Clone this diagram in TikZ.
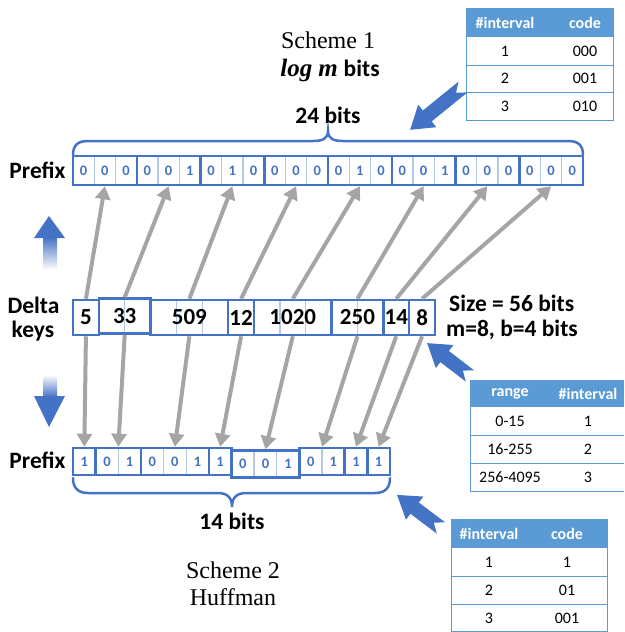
\documentclass[tikz,border=0pt]{standalone}
\usepackage{fontspec}
\setmainfont{Carlito}
\newfontfamily\schemefont{Liberation Serif}
\usetikzlibrary{arrows.meta}

\definecolor{boxblue}{HTML}{4472C4}
\definecolor{seplight}{HTML}{B4C7E7}
\definecolor{arrowgray}{HTML}{A5A5A5}
\definecolor{headblue}{HTML}{5B9BD5}

\tikzset{
  lbl/.style={font=\fontsize{23.5}{27}\selectfont\bfseries, inner sep=0},
  bitnum/.style={font=\fontsize{14.5}{16}\selectfont\bfseries, text=boxblue, inner sep=0},
  keynum/.style={font=\fontsize{23}{27}\selectfont\bfseries, inner sep=0},
  grp/.style={draw=boxblue, line width=2.5pt, inner sep=0, rectangle},
  sepline/.style={draw=seplight, line width=1.4pt},
  link/.style={draw=arrowgray, line width=4pt, -{Triangle[width=15pt,length=13pt]}},
  brace/.style={draw=boxblue, line width=2.5pt, line cap=round},
  scheme/.style={font=\schemefont\fontsize{24}{28}\selectfont, inner sep=0},
  thead/.style={font=\fontsize{16}{19}\selectfont\bfseries, text=white, inner sep=0},
  tcell/.style={font=\fontsize{16}{19}\selectfont, inner sep=0},
  tline/.style={draw=headblue, line width=1pt},
}

% notched block arrow: tail x, tail y, direction angle, length
\newcommand{\calloutarrow}[4]{%
  \begin{scope}[shift={(#1,#2)}, rotate=#3]
    \fill[boxblue] (0,-7) -- ({#4-22},-7) -- ({#4-22},-14.5) -- (#4,0)
      -- ({#4-22},14.5) -- ({#4-22},7) -- (0,7) -- (9,0) -- cycle;
  \end{scope}}

\begin{document}
\begin{tikzpicture}[x=1pt, y=-1pt]
\useasboundingbox (0,0) rectangle (624,632);

% ---------- scheme 1 prefix (24 bits) ----------
\foreach \c in {1,...,23}
  \draw[sepline] ({73+21.25*\c},156) -- ++(0,29);
\foreach \b [count=\i from 0] in {0,0,0,0,0,1,0,1,0,0,0,0,0,1,0,0,0,1,0,0,0,0,0,0}
  \node[bitnum] (tb\i) at ({73+21.25*(\i+0.5)},170.5) {\b};
\foreach \g in {1,...,8}
  \node[grp, minimum width=63.75pt, minimum height=29pt] (t\g) at ({73+63.75*(\g-0.5)},170.5) {};

% ---------- delta keys (56 bits) ----------
\foreach \c in {4,5,8,9,11}
  \draw[sepline] ({73+25.86*\c},300) -- ++(0,35);
\draw[sepline] ({73+25.86*2},298.5) -- ++(0,35);
\foreach \s/\n/\i/\dy/\v in {0/1/1/0/5, 1/2/2/-1.5/33, 3/3/3/0/509, 6/1/4/0/12,
                             7/3/5/0/1020, 10/2/6/0/250, 12/1/7/0/14, 13/1/8/0/8}
  \node[grp, keynum, minimum width={\n*25.86pt}, minimum height=35pt]
    (d\i) at ({73+25.86*(\s+\n/2)},{317.5+\dy}) {\v};

% ---------- scheme 2 prefix (14 bits) ----------
\foreach \c in {2,4,5,11}
  \draw[sepline] ({73+22.64*\c},448) -- ++(0,27);
\foreach \c in {8,9}
  \draw[sepline] ({73+22.64*\c},450.5) -- ++(0,27);
\foreach \b [count=\i from 0] in {1,0,1,0,0,1,1,0,0,1,0,1,1,1} {
  \pgfmathsetmacro\dy{ifthenelse(and(\i>6,\i<10),2.5,0)}
  \node[bitnum] (bb\i) at ({73+22.64*(\i+0.5)},{461.5+\dy}) {\b};
}
\foreach \s/\n/\i/\dy in {0/1/1/0, 1/2/2/0, 3/3/3/0, 6/1/4/0,
                          7/3/5/2.5, 10/2/6/0, 12/1/7/0, 13/1/8/0}
  \node[grp, minimum width={\n*22.64pt}, minimum height=27pt]
    (b\i) at ({73+22.64*(\s+\n/2)},{461.5+\dy}) {};

% ---------- connectors ----------
\foreach \i in {1,...,8} {
  \draw[link] (d\i.north) -- (t\i.south);
  \draw[link] (d\i.south) -- (b\i.north);
}

% ---------- row labels ----------
\node[lbl, anchor=base] (pfxtop) at (37.5,178) {Prefix};
\node[lbl, anchor=base] (deltaA) at (33.5,313) {Delta};
\node[lbl, anchor=base] (deltaB) at (33,337) {keys};
\node[lbl, anchor=base] (pfxbot) at (37.5,468) {Prefix};
\node[lbl, anchor=base west] (sizelbl) at (449,311.5) {Size = 56 bits};
\node[lbl, anchor=base west] (mblbl) at (446,336) {m=8, b=4 bits};

% ---------- braces ----------
\draw[brace] (73,155) .. controls (73,145) and (78,141) .. (88,141) -- (313,141)
  .. controls (322,141) and (328,139) .. (328,131)
  .. controls (328,139) and (334,141) .. (343,141) -- (568,141)
  .. controls (578,141) and (583,145) .. (583,155);
\node[lbl, anchor=base] (bits24) at (328,123) {24 bits};

\draw[brace] (73,478) .. controls (73,488) and (78,493) .. (88,493) -- (217,493)
  .. controls (226,493) and (232,496) .. (232,507)
  .. controls (232,496) and (238,493) .. (247,493) -- (375,493)
  .. controls (385,493) and (390,488) .. (390,478);
\node[lbl, anchor=base] (bits14) at (232,529) {14 bits};

% ---------- scheme titles ----------
\node[scheme, anchor=base] (sch1) at (328,48) {Scheme 1};
\node[anchor=base, inner sep=0] (sch1b) at (330,76)
  {{\schemefont\bfseries\itshape\fontsize{25}{28}\selectfont log\hspace{6pt}m}\hspace{6pt}{\fontsize{23.5}{27}\selectfont\bfseries bits}};
\node[scheme, anchor=base] (sch2) at (233,578) {Scheme 2};
\node[scheme, anchor=base] (sch2b) at (233,605) {Huffman};

% ---------- direction arrows on the left ----------
\shade[top color=boxblue, bottom color=boxblue!6] (43,237) rectangle (57,268);
\fill[boxblue] (49,216) -- (65,238) -- (34,238) -- cycle;
\shade[top color=boxblue!6, bottom color=boxblue] (43,376) rectangle (57,397);
\fill[boxblue] (34,396) -- (65,396) -- (49,427) -- cycle;

% ---------- table: fixed-length codes ----------
\fill[headblue] (466,8) rectangle (613,37);
\draw[tline] (466,8) -- (466,120) -- (613,120) -- (613,8);
\foreach \y in {65,92} \draw[tline] (466,\y) -- (613,\y);
\node[thead] (ta1) at (505,22.5) {\#interval};
\node[thead] (ta2) at (585,22.5) {code};
\foreach \k/\cd/\y in {1/000/51, 2/001/78.5, 3/010/106} {
  \node[tcell] (tak\k) at (505,\y) {\k};
  \node[tcell] (tac\k) at (585,\y) {\cd};
}

% ---------- table: ranges ----------
\fill[headblue] (470,380) rectangle (624,407);
\draw[tline] (624,491) -- (470,491) -- (470,380);
\foreach \y in {435,463} \draw[tline] (470,\y) -- (624,\y);
\node[thead] (tb1) at (510,393.5) {range};
\node[thead] (tb2) at (588,393.5) {\#interval};
\foreach \r/\k/\y in {0-15/1/421, 16-255/2/449, 256-4095/3/477} {
  \node[tcell] (tbr\k) at (510,\y) {\r};
  \node[tcell] (tbk\k) at (588,\y) {\k};
}

% ---------- table: Huffman codes ----------
\fill[headblue] (451,519) rectangle (607,548);
\draw[tline] (451,519) -- (451,631.5) -- (607,631.5) -- (607,519);
\foreach \y in {576,604} \draw[tline] (451,\y) -- (607,\y);
\node[thead] (tc1) at (489,533.5) {\#interval};
\node[thead] (tc2) at (567,533.5) {code};
\foreach \k/\cd/\y in {1/1/562, 2/01/590, 3/001/618} {
  \node[tcell] (tck\k) at (489,\y) {\k};
  \node[tcell] (tcc\k) at (567,\y) {\cd};
}

% ---------- callout arrows ----------
\calloutarrow{463}{87}{219}{68}
\calloutarrow{470}{376}{142.5}{54}
\calloutarrow{441}{528}{143}{55}

\end{tikzpicture}
\end{document}
